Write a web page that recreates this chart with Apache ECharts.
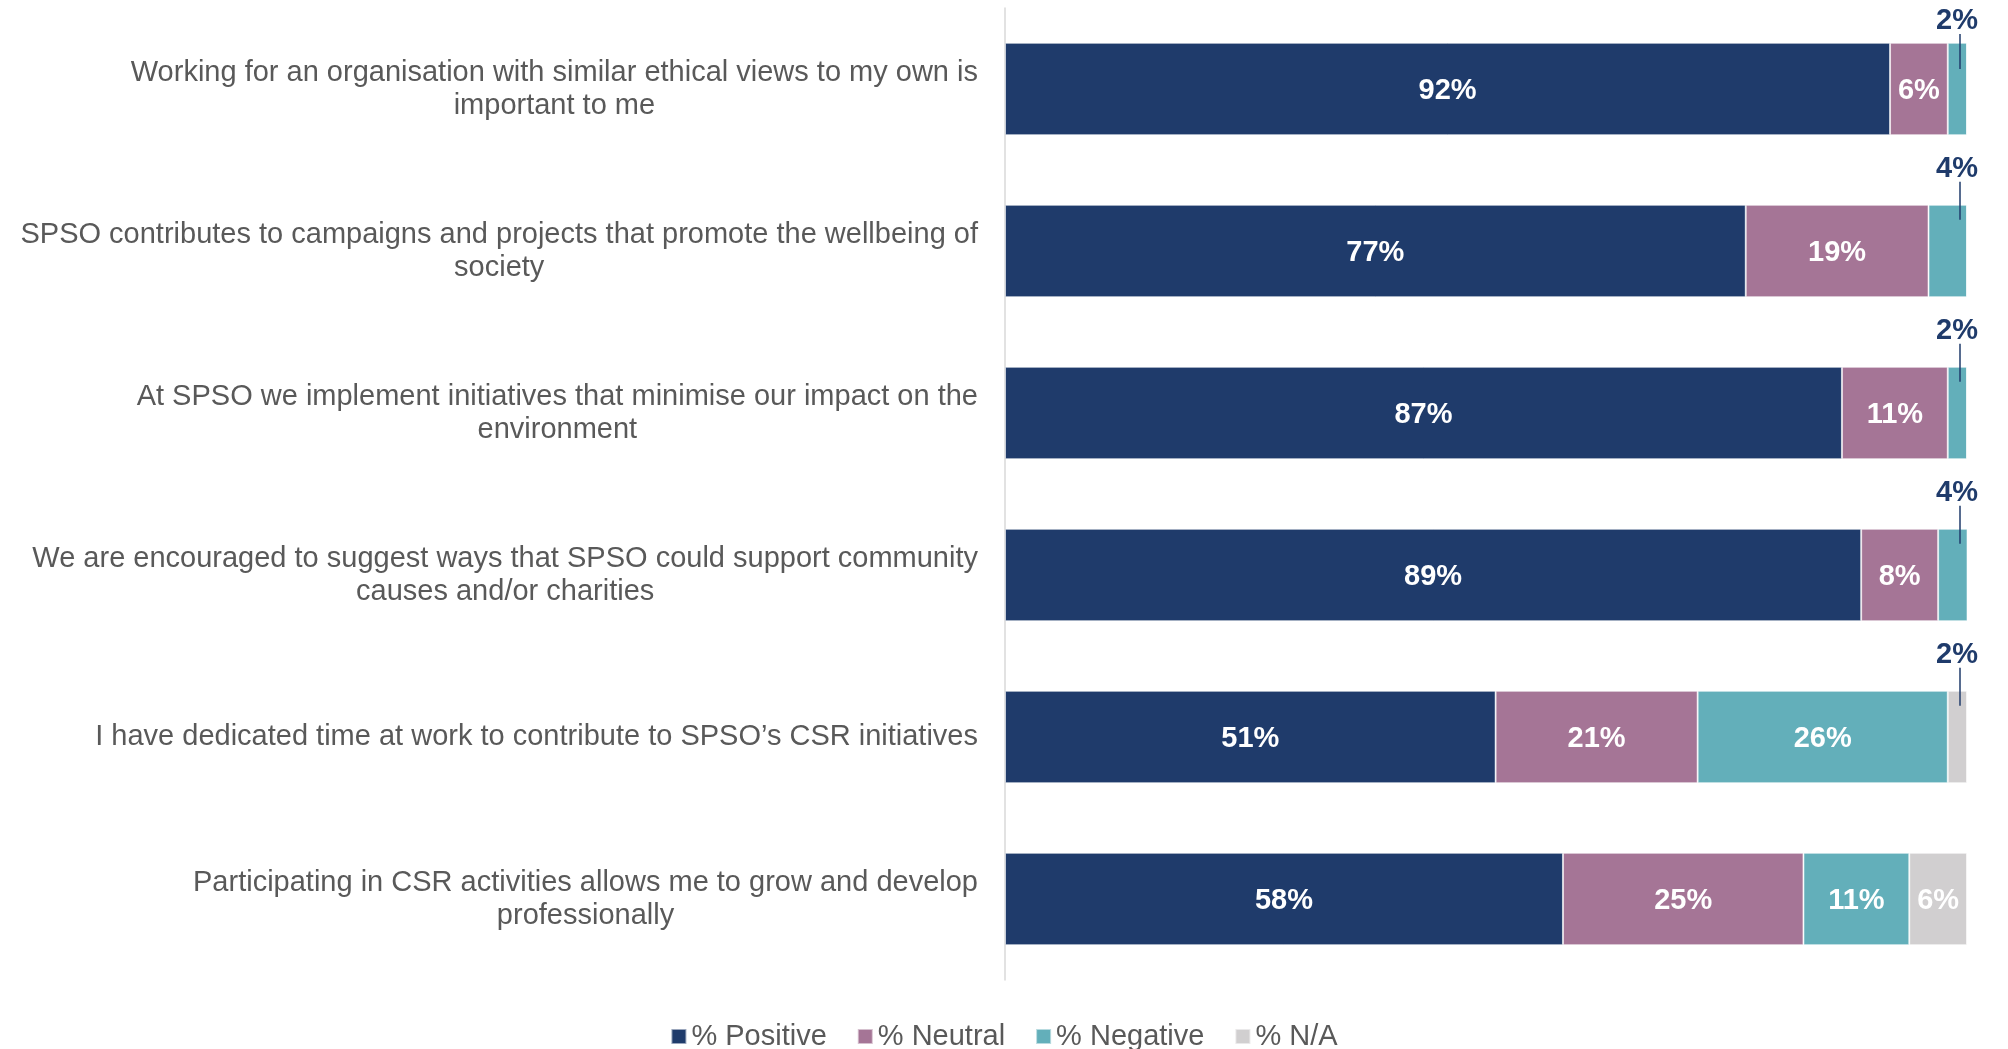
<!DOCTYPE html>
<html>
<head>
<meta charset="utf-8">
<script src="https://cdn.jsdelivr.net/npm/echarts@6/dist/echarts.min.js"></script>
<style>
html,body{margin:0;padding:0;background:#fff;}
#chart{width:2008px;height:1049px;}
</style>
</head>
<body>
<div id="chart"></div>
<script>
const categories = [
  "Working for an organisation with similar ethical views to my own is\nimportant to me",
  "SPSO contributes to campaigns and projects that promote the wellbeing of\nsociety",
  "At SPSO we implement initiatives that minimise our impact on the\nenvironment",
  "We are encouraged to suggest ways that SPSO could support community\ncauses and/or charities",
  "I have dedicated time at work to contribute to SPSO\u2019s CSR initiatives",
  "Participating in CSR activities allows me to grow and develop\nprofessionally"
];
const seriesNames = ["% Positive", "% Neutral", "% Negative", "% N/A"];
const positive = [92, 77, 87, 89, 51, 58];
const neutral  = [6, 19, 11, 8, 21, 25];
const negative = [2, 4, 2, 4, 26, 11];
const na       = [0, 0, 0, 0, 2, 6];
const colors = ["#1F3B6B", "#A57596", "#63AFBA", "#D1CFD0"];

const FONT = '"Liberation Sans", Arial, sans-serif';
const allSeries = [positive, neutral, negative, na];
const SMALL = 4;

// callouts for small rightmost segments
const callouts = [];
for (let i = 0; i < categories.length; i++) {
  for (let s = allSeries.length - 1; s >= 0; s--) {
    const v = allSeries[s][i];
    if (v > 0) {
      if (v <= SMALL) callouts.push({ value: [100, i, v] });
      break;
    }
  }
}

const barSeries = seriesNames.map((name, s) => ({
  name: name,
  type: 'bar',
  stack: 'total',
  barCategoryGap: '43%',
  data: allSeries[s],
  itemStyle: { color: colors[s], borderColor: 'rgba(255,255,255,0.55)', borderWidth: 1 },
  label: {
    show: true,
    position: 'inside',
    offset: [0, 2],
    color: '#ffffff',
    fontFamily: FONT,
    fontWeight: 'bold',
    fontSize: 29,
    formatter: p => (p.value > SMALL ? p.value + '%' : '')
  },
  emphasis: { disabled: true }
}));

const calloutSeries = {
  type: 'custom',
  data: callouts,
  silent: true,
  z: 10,
  renderItem: function (params, api) {
    const idx = api.value(1);
    const end = api.coord([api.value(0), idx]);
    const bandH = api.size([0, 1])[1];
    const barTop = end[1] - bandH * 0.57 / 2;
    const x = end[0] - 10;
    const ly = Math.max(barTop - 36, 21);
    const y2 = Math.max(barTop + 15, ly + 48);
    return {
      type: 'group',
      children: [
        { type: 'line', shape: { x1: x + 3, y1: ly + 13, x2: x + 3, y2: y2 },
          style: { stroke: '#1F3B6B', lineWidth: 1.5 } },
        { type: 'text', x: x, y: ly,
          style: { text: api.value(2) + '%', align: 'center', verticalAlign: 'middle',
                   fontFamily: FONT, fontWeight: 'bold', fontSize: 29, fill: '#1F3B6B' } }
      ]
    };
  }
};

const chart = echarts.init(document.getElementById('chart'), null, { renderer: 'canvas' });
chart.setOption({
  animation: false,
  backgroundColor: '#ffffff',
  grid: { left: 1005, right: 41, top: 8, bottom: 69, containLabel: false },
  legend: {
    data: seriesNames,
    left: 'center',
    top: 1017,
    icon: 'rect',
    itemWidth: 15,
    itemHeight: 15,
    itemGap: 30,
    textStyle: { fontFamily: FONT, fontSize: 29, color: '#595959' }
  },
  xAxis: {
    type: 'value',
    min: 0,
    max: 100,
    show: false,
    splitLine: { show: false }
  },
  yAxis: {
    type: 'category',
    data: categories,
    inverse: true,
    axisLine: { show: true, lineStyle: { color: '#D9D9D9', width: 1.5 } },
    axisTick: { show: false },
    axisLabel: {
      margin: 27,
      fontFamily: FONT,
      fontSize: 29,
      color: '#595959',
      lineHeight: 33,
      formatter: v => v.split('\n').map(l => '{c|' + l + '}').join('\n'),
      rich: { c: { align: 'center', fontFamily: FONT, fontSize: 29, color: '#595959', lineHeight: 33 } }
    }
  },
  series: barSeries.concat([calloutSeries])
});
</script>
</body>
</html>
